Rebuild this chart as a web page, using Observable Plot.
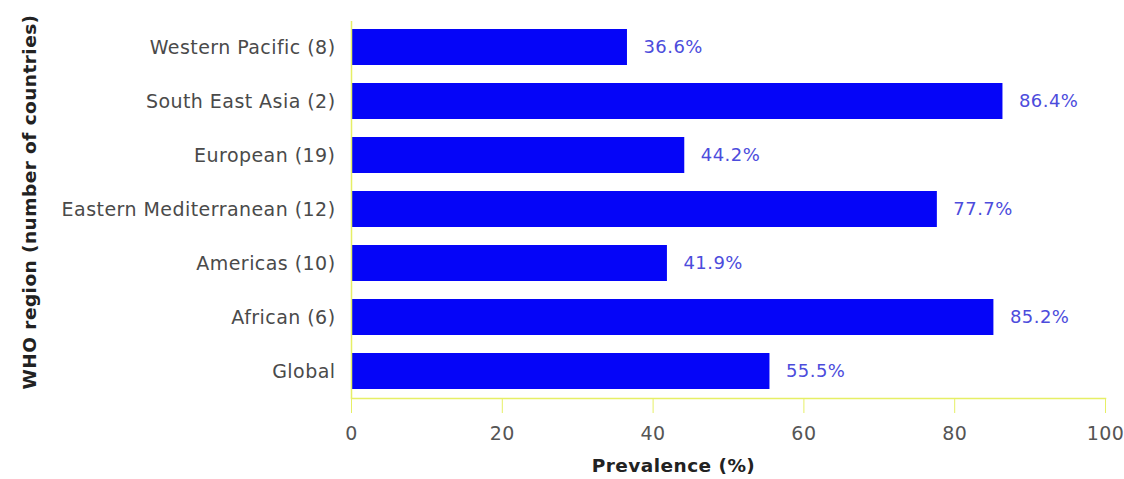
<!DOCTYPE html>
<html>
<head>
<meta charset="utf-8">
<script src="https://cdn.jsdelivr.net/npm/d3@7"></script>
<script src="https://cdn.jsdelivr.net/npm/@observablehq/plot@0.6"></script>
<style>
  html, body { margin: 0; padding: 0; background: #fff; }
  #chart svg { display: block; }
</style>
</head>
<body>
<div id="chart"></div>
<script>
const regions = ["Western Pacific (8)", "South East Asia (2)", "European (19)", "Eastern Mediterranean (12)", "Americas (10)", "African (6)", "Global"];
const prevalence = [36.6, 86.4, 44.2, 77.7, 41.9, 85.2, 55.5];
const xTicks = [0, 20, 40, 60, 80, 100];

const data = regions.map((r, i) => ({region: r, value: prevalence[i]}));
const axisColor = "#e6ef66";
const font = "DejaVu Sans, sans-serif";

const chart = Plot.plot({
  width: 1124,
  height: 479,
  marginLeft: 351,
  marginRight: 19,
  marginTop: 21,
  marginBottom: 81,
  style: {fontFamily: font, fontSize: "17px", color: "#555", background: "#fff", letterSpacing: "0.45px"},
  x: {domain: [0, 100], ticks: xTicks, label: null},
  y: {domain: regions, paddingInner: 0.33, paddingOuter: 0.15, label: null},
  marks: [
    Plot.barX(data, {x: "value", y: "region", fill: "#0505f8"}),
    Plot.text(data, {x: "value", y: "region", text: d => d.value.toFixed(1) + "%", textAnchor: "start", dx: 16, fill: "#4c4cdc", fontSize: 18}),
    Plot.ruleX([0], {stroke: axisColor, strokeWidth: 1.5}),
    Plot.frame({anchor: "bottom", stroke: axisColor, strokeWidth: 1.5}),
    Plot.axisX({ticks: xTicks, tickSize: 15, tickPadding: 13, stroke: axisColor, color: "#555", fontSize: 19, label: null}),
    Plot.axisY({tickSize: 0, tickPadding: 16, fontSize: 19, color: "#4a4a4a", label: null}),
    Plot.text(["Prevalence (%)"], {frameAnchor: "bottom", dy: 73, dx: -55, fontWeight: "bold", fontSize: 18.5, fill: "#222"}),
    Plot.text(["WHO region (number of countries)"], {frameAnchor: "left", textAnchor: "middle", dx: -321, dy: -8, rotate: -90, fontWeight: "bold", fontSize: 18.5, fill: "#222"})
  ]
});
document.getElementById("chart").appendChild(chart);
</script>
</body>
</html>
